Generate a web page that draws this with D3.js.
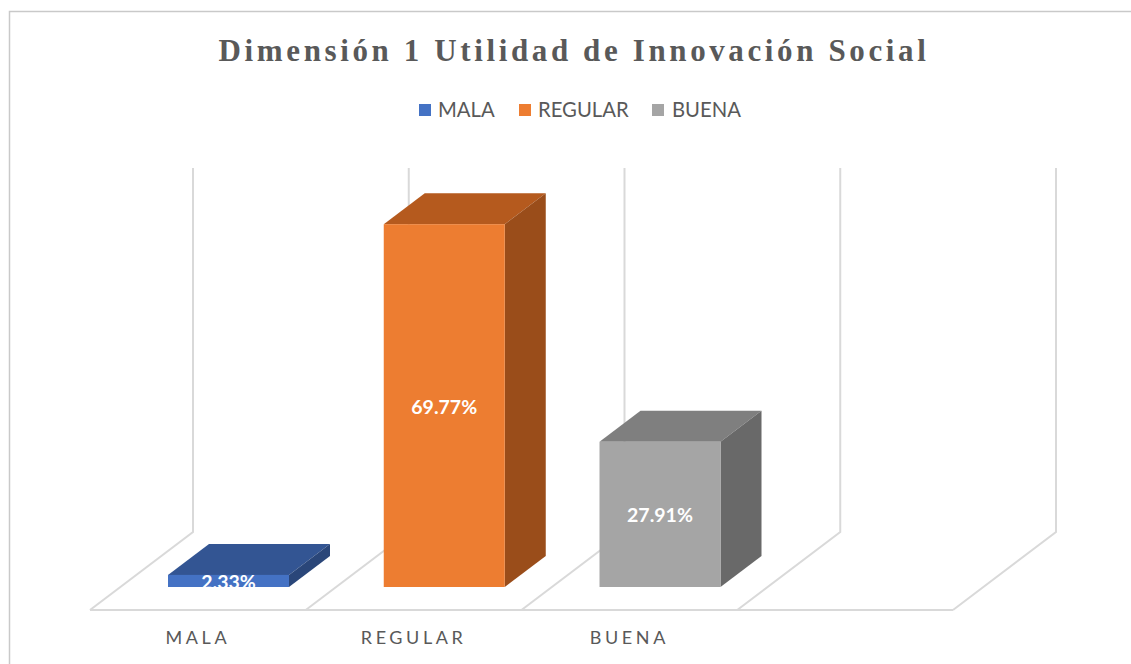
<html>
	<head>
		<meta charset="utf-8">
		<style>
			html, body { margin: 0; padding: 0; background: #ffffff; }
			svg { display: block; }
		</style>
	</head>
	<body>
		<svg width="1131" height="664"></svg>
		<script src="https://d3js.org/d3.v7.min.js"></script>
		<script>
			var title = "Dimensión 1 Utilidad de Innovación Social"
			// the chart leaves a fourth, empty slot on the right
			var categories = ["MALA", "REGULAR", "BUENA", ""]
			var values = [2.33, 69.77, 27.91]
			var frontColors = ["#4472c4", "#ed7d31", "#a5a5a5"]
			var topColors = ["#335593", "#b55a1e", "#7f7f7f"]
			var sideColors = ["#2a4679", "#9a4d1a", "#696969"]

			var svg = d3.select("svg"),
				width = +svg.attr("width"),
				height = +svg.attr("height")

			var floorY = 610, backY = 532, wallTop = 168
			var depthX = 103
			var barBase = 587
			var barW = 121
			var barDX = 41, barDY = 31
			var gridColor = "#d9d9d9"

			var x = d3.scaleBand().domain(categories).range([90, 953])
			var y = d3.scaleLinear().domain([0, 70]).range([barBase, barBase - 364])

			// chart border, only top and left show
			svg.append("path")
				.attr("d", "M9.5,664V11.5H" + width)
				.attr("fill", "none")
				.attr("stroke", "#c9c9c9")
				.attr("stroke-width", 1.5)

			svg.append("text")
				.attr("x", 574)
				.attr("y", 61)
				.attr("text-anchor", "middle")
				.style("font-family", "'Liberation Serif'")
				.style("font-weight", "bold")
				.style("font-size", "31px")
				.style("letter-spacing", "3.62px")
				.style("fill", "#595959")
				.text(title)

			// legend
			var legendX = [419, 519, 652], legendTextX = [438, 538, 672]
			var legend = svg.selectAll(".legend")
				.data(categories.slice(0, 3))
				.enter().append("g")
				.attr("class", "legend")
			legend.append("rect")
				.attr("x", (d, i) => legendX[i])
				.attr("y", 104)
				.attr("width", 12)
				.attr("height", 12)
				.attr("fill", (d, i) => frontColors[i])
			legend.append("text")
				.attr("x", (d, i) => legendTextX[i])
				.attr("y", 117)
				.style("font-family", "Lato")
				.style("font-size", "20.3px")
				.style("fill", "#595959")
				.text(d => d)

			// floor and wall lines, one per category edge
			var edges = categories.map(d => x(d)).concat([x.range()[1]])
			var grid = svg.append("g")
				.attr("fill", "none")
				.attr("stroke", gridColor)
				.attr("stroke-width", 2)
			grid.selectAll("path")
				.data(edges)
				.enter().append("path")
				.attr("d", d => "M" + d + "," + floorY + "L" + (d + depthX) + "," + backY + "V" + wallTop)
			grid.append("path")
				.datum(x.range())
				.attr("d", d => "M" + d[0] + "," + floorY + "H" + d[1])

			// category labels
			var axis = svg.append("g")
				.attr("transform", "translate(0," + floorY + ")")
				.call(d3.axisBottom(x).tickSize(0).tickPadding(21))
			axis.select(".domain").remove()
			axis.selectAll("text")
				.style("font-family", "Lato")
				.style("font-size", "18px")
				.style("letter-spacing", "3.6px")
				.style("fill", "#595959")

			// bars
			var barX = d => x(d) + 78
			var bars = svg.selectAll(".bar")
				.data(values)
				.enter().append("g")
				.attr("class", "bar")

			bars.append("path")
				.attr("fill", (d, i) => topColors[i])
				.attr("d", function(d, i) {
					var l = barX(categories[i]), t = y(d)
					return "M" + l + "," + t + "L" + (l + barDX) + "," + (t - barDY) + "H" + (l + barW + barDX) + "L" + (l + barW) + "," + t + "Z"
				})
			bars.append("path")
				.attr("fill", (d, i) => sideColors[i])
				.attr("d", function(d, i) {
					var r = barX(categories[i]) + barW, t = y(d)
					return "M" + r + "," + t + "L" + (r + barDX) + "," + (t - barDY) + "V" + (barBase - barDY) + "L" + r + "," + barBase + "Z"
				})
			bars.append("rect")
				.attr("fill", (d, i) => frontColors[i])
				.attr("x", (d, i) => barX(categories[i]))
				.attr("y", d => y(d))
				.attr("width", barW)
				.attr("height", d => barBase - y(d))

			// labels stop at the bar's bottom edge, 2.33% gets cut off
			svg.append("clipPath").attr("id", "base")
				.append("rect")
				.attr("width", width)
				.attr("height", barBase)

			bars.append("text")
				.attr("clip-path", "url(#base)")
				.attr("x", (d, i) => barX(categories[i]) + barW / 2)
				.attr("y", d => d < 5 ? 589 : (y(d) + barBase) / 2 + 8)
				.attr("text-anchor", "middle")
				.style("font-family", "Lato")
				.style("font-weight", "bold")
				.style("font-size", "19.5px")
				.style("fill", "#ffffff")
				.text(d => d.toFixed(2) + "%")
		</script>
	</body>
</html>
